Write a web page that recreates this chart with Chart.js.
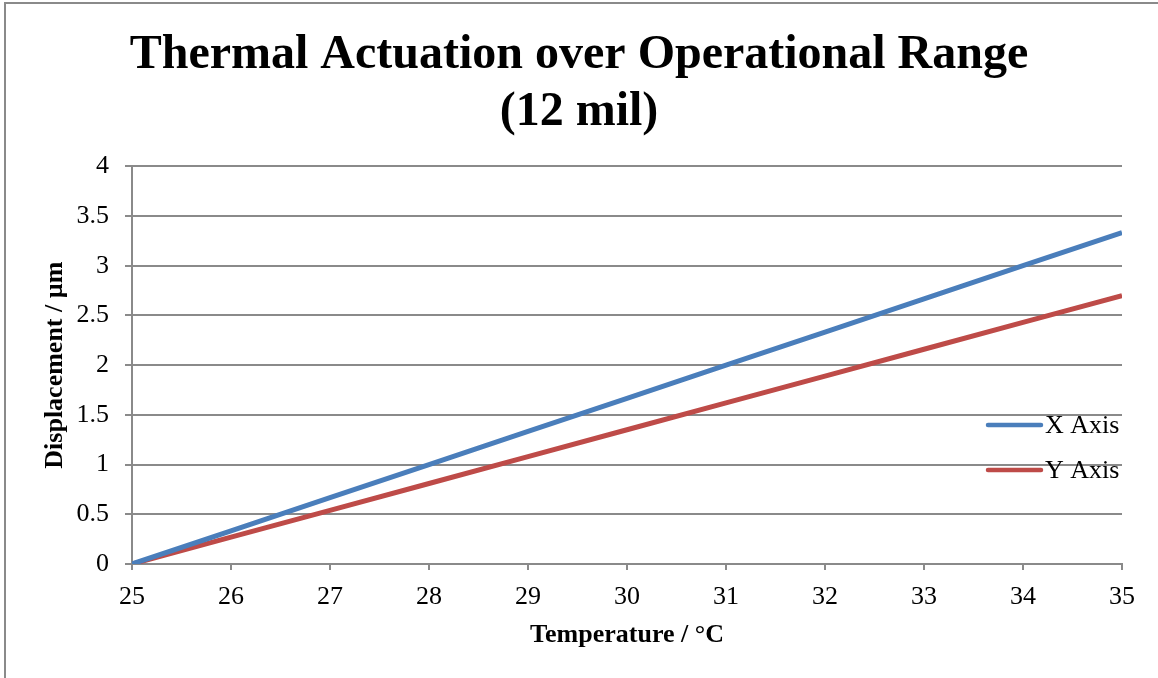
<!DOCTYPE html>
<html>
<head>
<meta charset="utf-8">
<script src="https://cdn.jsdelivr.net/npm/chart.js@4"></script>
<style>
  html, body { margin: 0; padding: 0; background: #fff; }
  .wrap { position: relative; width: 1158px; height: 678px; overflow: hidden; }
  .frame { position: absolute; left: 4px; top: 2px; width: 1200px; height: 700px;
           border-left: 2px solid #8a8a8a; border-top: 2px solid #8a8a8a; }
  canvas { position: absolute; left: 0; top: 0; }
</style>
</head>
<body>
<div class="wrap">
  <div class="frame"></div>
  <canvas class="myChart" width="1158" height="678"></canvas>
</div>
<script>
const temps = [25, 26, 27, 28, 29, 30, 31, 32, 33, 34, 35];
const xAxisValues = [0, 0.333, 0.667, 1.0, 1.333, 1.667, 2.0, 2.333, 2.667, 3.0, 3.333];
const yAxisValues = [0, 0.27, 0.54, 0.81, 1.08, 1.35, 1.62, 1.89, 2.16, 2.43, 2.70];
const seriesNames = ['X Axis', 'Y Axis'];

const serif = '"Liberation Serif", "Times New Roman", serif';

// legend drawn inside the plot, Excel style
const insideLegend = {
  id: 'insideLegend',
  afterDatasetsDraw (chart) {
    const ctx = chart.ctx;
    const area = chart.chartArea;
    ctx.save();
    ctx.font = '26px ' + serif;
    ctx.textBaseline = 'middle';
    chart.data.datasets.forEach((ds, i) => {
      const y = 425 + i * 45;
      const x0 = area.right - 134;
      ctx.strokeStyle = ds.borderColor;
      ctx.lineWidth = 4.5;
      ctx.lineCap = 'round';
      ctx.beginPath();
      ctx.moveTo(x0, y);
      ctx.lineTo(x0 + 53, y);
      ctx.stroke();
      ctx.fillStyle = '#000';
      ctx.fillText(ds.label, x0 + 57, y + 1);
    });
    ctx.restore();
  }
};

function makeChart () {
  const ctx = document.querySelector('.myChart');

  new Chart(ctx, {
    type: 'line',
    data: {
      labels: temps,
      datasets: [{
        label: seriesNames[0],
        data: temps.map((t, i) => ({x: t, y: xAxisValues[i]})),
        borderColor: '#4A7EBB',
        backgroundColor: '#4A7EBB',
        borderWidth: 5,
        pointRadius: 0,
        tension: 0
      }, {
        label: seriesNames[1],
        data: temps.map((t, i) => ({x: t, y: yAxisValues[i]})),
        borderColor: '#BE4B48',
        backgroundColor: '#BE4B48',
        borderWidth: 5,
        pointRadius: 0,
        tension: 0
      }]
    },
    options: {
      responsive: false,
      animation: false,
      layout: { padding: { left: 36, right: 36, top: 0, bottom: 23 } },
      plugins: {
        legend: { display: false },
        tooltip: { enabled: false },
        title: {
          display: true,
          text: ['Thermal Actuation over Operational Range', '(12 mil)'],
          color: '#000',
          font: { family: serif, size: 48, weight: 'bold', lineHeight: 1.17 },
          padding: { top: 28, bottom: 26 }
        }
      },
      scales: {
        x: {
          type: 'linear',
          min: 25,
          max: 35,
          ticks: { stepSize: 1, color: '#000', padding: 12, font: { family: serif, size: 26 } },
          grid: { drawOnChartArea: false, color: '#8a8a8a', lineWidth: 2, tickLength: 6 },
          border: { color: '#8a8a8a', width: 2 },
          title: { display: true, text: 'Temperature / °C', color: '#000',
                   font: { family: serif, size: 26, weight: 'bold' } },
          afterFit (scale) { scale.height = 91; }
        },
        y: {
          min: 0,
          max: 4,
          ticks: { stepSize: 0.5, color: '#000', padding: 16, font: { family: serif, size: 26 },
                   callback: v => String(v) },
          grid: { color: '#8a8a8a', lineWidth: 2, tickLength: 7 },
          border: { color: '#8a8a8a', width: 2 },
          title: { display: true, text: 'Displacement / µm', color: '#000',
                   font: { family: serif, size: 26, weight: 'bold' } },
          afterFit (scale) { scale.width = 96; }
        }
      }
    },
    plugins: [insideLegend]
  });
}

makeChart();
</script>
</body>
</html>
